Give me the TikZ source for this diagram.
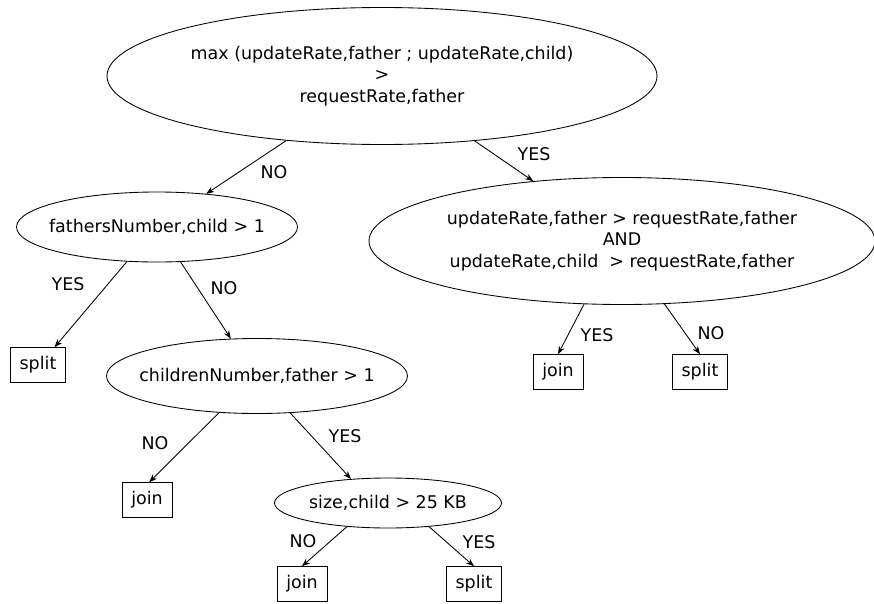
\documentclass[tikz,border=0pt]{standalone}
\usepackage{fontspec}
\setmainfont{DejaVu Sans}
\usetikzlibrary{arrows.meta}
\usetikzlibrary{shapes.geometric}

% text that should not push the ellipse wider
\newcommand{\zw}[1]{\makebox[0pt]{#1}}

\tikzset{
    cond/.style = {ellipse, draw, inner sep = 0pt, align = center},
    leaf/.style = {rectangle, draw, inner xsep = 7pt, minimum height = 26pt},
    lbl/.style = {inner sep = 0pt},
}

\begin{document}
\begin{tikzpicture}[x = 0.75pt, y = -0.75pt, line width = 0.65pt,
    >={Stealth[length = 6pt, width = 4.5pt, inset = 1.8pt]},
    font = \fontsize{13.1pt}{15.9pt}\selectfont]
    % pixel grid of the sheet
    \useasboundingbox (0,0) rectangle (874,603);

    % the questions
    \node [cond, minimum width = 412.5pt, minimum height = 102.75pt] (top) at (382,76)
        {\zw{max (updateRate,father ; updateRate,child)}\\ >\\ \zw{requestRate,father}};
    \node [cond, minimum width = 210.75pt, minimum height = 52.5pt] (fathers) at (157,227)
        {\zw{fathersNumber,child > 1}};
    \node [cond, minimum width = 379.5pt, minimum height = 95.25pt] (both) at (622,241)
        {\zw{updateRate,father > requestRate,father}\\ AND\\
         \zw{updateRate,child\ \ > requestRate,father}};
    \node [cond, minimum width = 225.75pt, minimum height = 56.25pt] (children) at (257,376)
        {\zw{childrenNumber,father > 1}};
    \node [cond, minimum width = 170.25pt, minimum height = 37.5pt] (size) at (388,503)
        {\zw{size,child > 25 KB}};

    % the answers
    \node [leaf] (splitA) at (38,365) {split};
    \node [leaf] (joinB) at (558,372) {join};
    \node [leaf] (splitB) at (700,372) {split};
    \node [leaf] (joinA) at (147,500) {join};
    \node [leaf] (joinC) at (302,584) {join};
    \node [leaf] (splitC) at (474,584) {split};

    % arrows, anchors picked by angle so they leave the ellipses off-centre
    \draw [->] (top.214) -- (fathers.34);
    \draw [->] (top.325) -- (both.146);
    \draw [->] (fathers.229) -- (splitA.47);
    \draw [->] (fathers.-56) -- (children.125);
    \draw [->] (both.239) -- (joinB.north);
    \draw [->] (both.-56) -- (splitB.north);
    \draw [->] (children.224) -- (joinA.83);
    \draw [->] (children.-48) -- (size.147);
    \draw [->] (size.210) -- (joinC.north);
    \draw [->] (size.330) -- (splitC.north);

    \node [lbl] (noTop) at (274,172) {NO};
    \node [lbl] (yesTop) at (534,154) {YES};
    \node [lbl] (yesFathers) at (68,284) {YES};
    \node [lbl] (noFathers) at (224,288) {NO};
    \node [lbl] (yesBoth) at (597,335) {YES};
    \node [lbl] (noBoth) at (711,333) {NO};
    \node [lbl] (noChildren) at (155,443) {NO};
    \node [lbl] (yesChildren) at (345,436) {YES};
    \node [lbl] (noSize) at (303,541) {NO};
    \node [lbl] (yesSize) at (479,542) {YES};
\end{tikzpicture}
\end{document}
